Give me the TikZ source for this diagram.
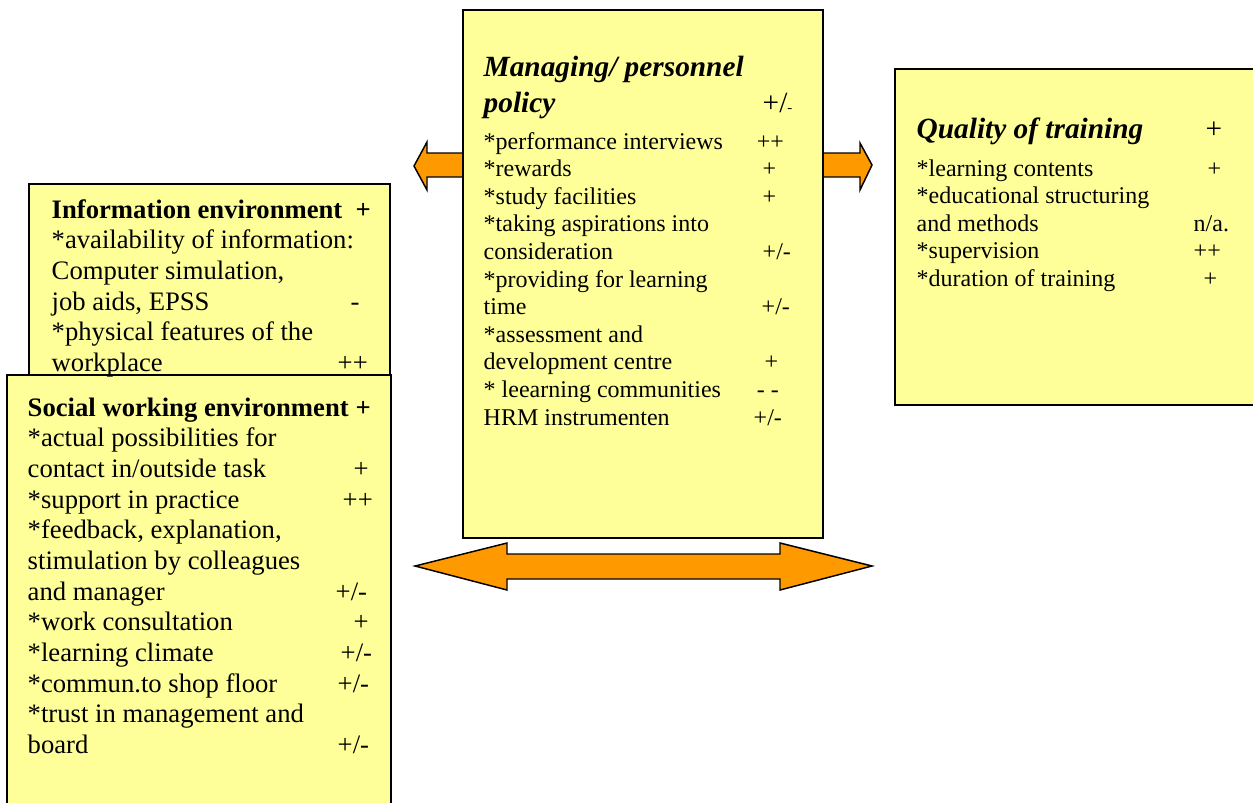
\documentclass[tikz,border=0pt]{standalone}
\usepackage{fontspec}
\setmainfont{Liberation Serif}
\usepackage{tikz}
\definecolor{notefill}{HTML}{FFFF99}
\definecolor{arrowfill}{HTML}{FF9900}
\newlength{\pxu}
\setlength{\pxu}{0.75pt}
\newcommand{\rl}[3]{\makebox[#2\pxu][l]{#1}#3}
\newcommand{\bodyfont}{\fontsize{18}{20.7}\selectfont}
\newcommand{\bigbody}{\fontsize{20}{23}\selectfont}
\newcommand{\headfont}{\fontsize{22}{27}\selectfont}

\begin{document}
\begin{tikzpicture}[x=0.75pt,y=-0.75pt,line width=1.1pt]
\clip (0,0) rectangle (1253,803);
\filldraw[fill=arrowfill] (468,153) -- (427,153) -- (427,142) -- (414,166) -- (427,190) -- (427,177) -- (468,177);
\filldraw[fill=arrowfill] (818,153) -- (860,153) -- (860,143) -- (872,165) -- (860,190) -- (860,177) -- (818,177);
\filldraw[fill=arrowfill] (415,566) -- (507,543) -- (507,554) -- (780,554) -- (780,543) -- (872,566) -- (780,590) -- (780,579) -- (507,579) -- (507,590) -- cycle;
\filldraw[fill=notefill] (463,10) rectangle (823,538);
\filldraw[fill=notefill] (895,69) rectangle (1280,405);
\filldraw[fill=notefill] (29,184) rectangle (390,450);
\filldraw[fill=notefill] (7,375) rectangle (391,830);
\node[anchor=base west,inner sep=0,font=\headfont] (mgtitle) at (483,76) {\begin{tabular}[t]{@{}l@{}}
\rl{\textbf{\textit{Managing/ personnel}}}{279}{}\\
\rl{\textbf{\textit{policy}}}{279}{+/{\fontsize{11}{11}\selectfont -}}
\end{tabular}};
\node[anchor=base west,inner sep=0,font=\bodyfont] (mgbody) at (483,149) {\begin{tabular}[t]{@{}l@{}}
\rl{*performance interviews}{273}{++}\\
\rl{*rewards}{279}{+}\\
\rl{*study facilities}{279}{+}\\
{}*taking aspirations into\\
\rl{consideration}{279}{+/-}\\
{}*providing for learning\\
\rl{time}{278}{+/-}\\
{}*assessment and\\
\rl{development centre}{281}{+}\\
\rl{* leearning communities}{273}{- -}\\
\rl{HRM instrumenten}{270}{+/-}
\end{tabular}};
\node[anchor=base west,inner sep=0,font=\headfont] (qtitle) at (916,138) {\rl{\textbf{\textit{Quality of training}}}{289}{+}};
\node[anchor=base west,inner sep=0,font=\bodyfont] (qbody) at (916,176) {\begin{tabular}[t]{@{}l@{}}
\rl{*learning contents}{291}{+}\\
{}*educational structuring\\
\rl{and methods}{277}{n/a.}\\
\rl{*supervision}{277}{++}\\
\rl{*duration of training}{287}{+}
\end{tabular}};
\node[anchor=base west,inner sep=0,font=\bigbody] (infotext) at (51,218) {\begin{tabular}[t]{@{}l@{}}
\rl{\textbf{Information environment}}{304}{\textbf{+}}\\
{}*availability of information:\\
Computer simulation,\\
\rl{job aids, EPSS}{299}{-}\\
{}*physical features of the\\
\rl{workplace}{286}{++}
\end{tabular}};
\node[anchor=base west,inner sep=0,font=\bigbody] (socialtext) at (27,416) {\begin{tabular}[t]{@{}l@{}}
\rl{\textbf{Social working environment}}{328}{\textbf{+}}\\
{}*actual possibilities for\\
\rl{contact in/outside task}{326}{+}\\
\rl{*support in practice}{315}{++}\\
{}*feedback, explanation,\\
stimulation by colleagues\\
\rl{and manager}{308}{+/-}\\
\rl{*work consultation}{326}{+}\\
\rl{*learning climate}{313}{+/-}\\
\rl{*commun.to shop floor}{310}{+/-}\\
{}*trust in management and\\
\rl{board}{310}{+/-}
\end{tabular}};
\end{tikzpicture}
\end{document}
